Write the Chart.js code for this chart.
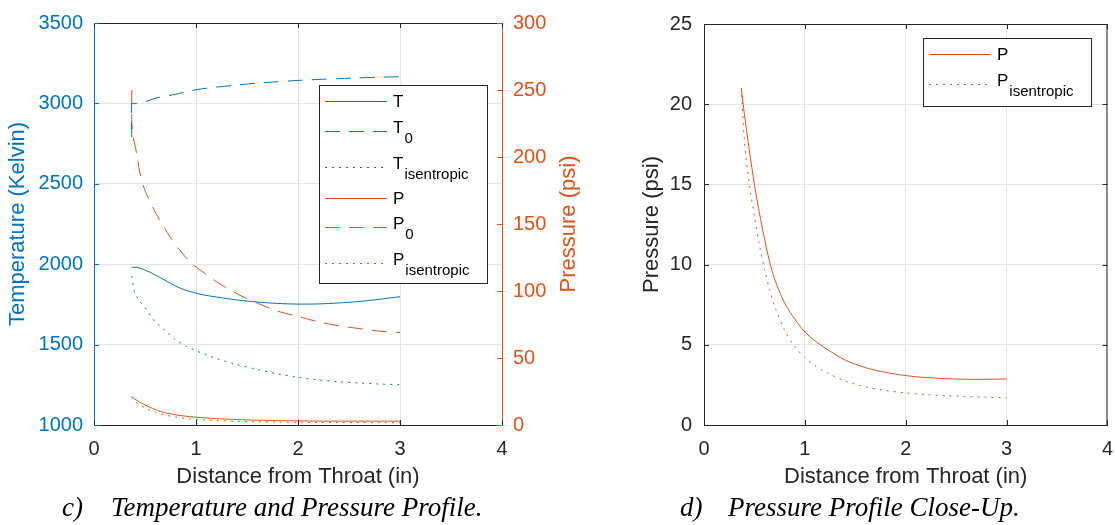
<!DOCTYPE html>
<html>
<head>
<meta charset="utf-8">
<script src="https://cdn.jsdelivr.net/npm/chart.js@4.4.0/dist/chart.umd.min.js"></script>
<style>
  html, body { margin: 0; padding: 0; background: #fff; overflow: hidden; }
  body { width: 1115px; height: 525px; position: relative; }
  .plot { position: absolute; top: 0; }
  #left-wrap { left: 0; width: 600px; height: 500px; }
  #right-wrap { left: 600px; width: 525px; height: 500px; }
  .caption { position: absolute; top: 492px; font-family: "Liberation Serif", "Times New Roman", serif;
             font-style: italic; font-size: 27px; line-height: 30px; white-space: nowrap; color: #000; }
</style>
</head>
<body>
<div class="plot" id="left-wrap"><canvas id="profileChart" width="600" height="500"></canvas></div>
<div class="plot" id="right-wrap"><canvas id="closeupChart" width="525" height="500"></canvas></div>
<div class="caption" style="left:62px">c)</div>
<div class="caption" style="left:111px">Temperature and Pressure Profile.</div>
<div class="caption" style="left:680px">d)</div>
<div class="caption" style="left:728px">Pressure Profile Close-Up.</div>

<script>
// distance from throat (in), shared by T, T_isentropic, P, P_isentropic
const distance = [0.37, 0.40, 0.45, 0.50, 0.55, 0.60, 0.65, 0.70, 0.80, 0.90, 1.00, 1.10, 1.20, 1.40, 1.60, 1.80, 2.00, 2.20, 2.40, 2.60, 2.80, 3.00];
const temp = [1978, 1982, 1975, 1963, 1950, 1933, 1916, 1899, 1864, 1838, 1820, 1806, 1796, 1778, 1765, 1756, 1752, 1753, 1759, 1768, 1782, 1798];
const tempIsen = [1925, 1822, 1768, 1730, 1683, 1642, 1612, 1587, 1530, 1491, 1462, 1436, 1413, 1376, 1346, 1318, 1296, 1280, 1269, 1261, 1255, 1251];
const pressure = [21.0, 19.4, 17.1, 15.0, 13.2, 11.6, 10.2, 9.1, 7.6, 6.6, 5.8, 5.25, 4.8, 4.05, 3.58, 3.28, 3.08, 2.96, 2.89, 2.85, 2.85, 2.87];
const pressureIsen = [21.0, 17.8, 15.0, 13.0, 11.2, 9.7, 8.45, 7.4, 5.9, 4.9, 4.2, 3.7, 3.32, 2.75, 2.38, 2.15, 2.0, 1.9, 1.83, 1.78, 1.73, 1.69];

// stagnation values, they start with a jump right at the throat
const tStagDistance = [0.37, 0.37, 0.40, 0.50, 0.60, 0.80, 1.00, 1.20, 1.40, 1.60, 1.80, 2.00, 2.20, 2.40, 2.60, 2.80, 3.00];
const tempStag = [2790, 3000, 2998, 3010, 3032, 3057, 3085, 3101, 3114, 3126, 3135, 3143, 3149, 3154, 3159, 3163, 3166];
const pStagDistance = [0.37, 0.37, 0.38, 0.42, 0.45, 0.50, 0.60, 0.75, 0.90, 1.00, 1.20, 1.40, 1.60, 1.80, 2.00, 2.20, 2.40, 2.60, 2.80, 3.00];
const pressureStag = [250, 228, 217, 202, 188, 175, 159, 140, 125, 118, 107, 98, 91, 85, 81, 77, 74, 72, 70, 69];

const xTicks = [0, 1, 2, 3, 4];

const BLUE = '#0072BD', ORANGE = '#D95319', AXIS = '#262626', GRID = '#e3e3e3';
const SOLID = [], DASH = [15, 9], DOT = [2, 5];
const FONT = '"Liberation Sans", Arial, Helvetica, sans-serif';

Chart.defaults.font.family = FONT;
Chart.defaults.animation = false;

const xy = (xs, ys) => xs.map((x, i) => ({ x: x, y: ys[i] }));
const plain = v => String(v);

function series(label, sub, xs, ys, color, dash, axis) {
    return { label: label, sub: sub, data: xy(xs, ys), borderColor: color, borderWidth: 1, borderDash: dash,
             pointRadius: 0, tension: 0.3, fill: false, yAxisID: axis };
}

// box legend with subscripts, MATLAB style
const boxLegend = {
    id: 'boxLegend',
    afterDraw(chart, args, opts) {
        const ctx = chart.ctx;
        const L = opts.left, T = opts.top;
        ctx.save();
        ctx.fillStyle = '#fff';
        ctx.fillRect(L, T, opts.width, opts.height);
        ctx.setLineDash([]);
        ctx.lineWidth = 1;
        ctx.strokeStyle = AXIS;
        ctx.strokeRect(L + 0.5, T + 0.5, opts.width, opts.height);
        chart.data.datasets.forEach((ds, i) => {
            const y = T + opts.rows[i];
            ctx.strokeStyle = ds.borderColor;
            ctx.setLineDash(ds.borderDash);
            ctx.beginPath();
            ctx.moveTo(L + 6, y + 0.5);
            ctx.lineTo(L + 68, y + 0.5);
            ctx.stroke();
            const base = y + 6 - (ds.sub ? 4 : 0);
            ctx.fillStyle = '#000';
            ctx.textBaseline = 'alphabetic';
            ctx.textAlign = 'left';
            ctx.font = '17px ' + FONT;
            ctx.fillText(ds.label, L + 74, base);
            if (ds.sub) {
                const w = ctx.measureText(ds.label).width;
                ctx.font = '15px ' + FONT;
                ctx.fillText(ds.sub, L + 74 + w + 1, base + 10);
            }
        });
        ctx.restore();
    }
};

// inward ticks, top edge and the rotated right-hand title
const frame = {
    id: 'frame',
    afterDraw(chart, args, opts) {
        const ctx = chart.ctx, a = chart.chartArea, s = chart.scales;
        const seg = (x1, y1, x2, y2) => { ctx.beginPath(); ctx.moveTo(x1, y1); ctx.lineTo(x2, y2); ctx.stroke(); };
        ctx.save();
        ctx.lineWidth = 1;
        ctx.setLineDash([]);
        ctx.strokeStyle = AXIS;
        seg(a.left, a.top + 0.5, a.right, a.top + 0.5);
        if (!s.y1) seg(a.right - 0.5, a.top, a.right - 0.5, a.bottom);
        s.x.ticks.forEach(t => {
            const px = Math.round(s.x.getPixelForValue(t.value)) + 0.5;
            seg(px, a.bottom, px, a.bottom - 5);
            seg(px, a.top, px, a.top + 5);
        });
        s.y.ticks.forEach(t => {
            const py = Math.round(s.y.getPixelForValue(t.value)) + 0.5;
            ctx.strokeStyle = opts.leftColor;
            seg(a.left, py, a.left + 5, py);
            if (!s.y1) { ctx.strokeStyle = AXIS; seg(a.right, py, a.right - 5, py); }
        });
        if (s.y1) {
            ctx.strokeStyle = ORANGE;
            s.y1.ticks.forEach(t => {
                const py = Math.round(s.y1.getPixelForValue(t.value)) + 0.5;
                seg(a.right, py, a.right - 5, py);
            });
        }
        if (opts.rightTitle) {
            ctx.translate(opts.rightTitleX, (a.top + a.bottom) / 2);
            ctx.rotate(-Math.PI / 2);
            ctx.fillStyle = ORANGE;
            ctx.font = '22px ' + FONT;
            ctx.textAlign = 'center';
            ctx.textBaseline = 'middle';
            ctx.fillText(opts.rightTitle, 0, 0);
        }
        ctx.restore();
    }
};

function xScale() {
    return {
        type: 'linear', min: xTicks[0], max: xTicks[xTicks.length - 1],
        afterBuildTicks: sc => { sc.ticks = xTicks.map(v => ({ value: v })); },
        ticks: { color: AXIS, font: { size: 20 }, padding: 12, callback: plain },
        grid: { color: GRID, drawTicks: false },
        border: { color: AXIS },
        title: { display: true, text: 'Distance from Throat (in)', color: AXIS, font: { size: 22 }, padding: { top: 0, bottom: 10 } },
        afterFit: sc => { sc.height = 75; }
    };
}

new Chart(document.getElementById('profileChart'), {
    type: 'line',
    data: {
        datasets: [
            series('T', '', distance, temp, BLUE, SOLID, 'y'),
            series('T', '0', tStagDistance, tempStag, BLUE, DASH, 'y'),
            series('T', 'isentropic', distance, tempIsen, BLUE, DOT, 'y'),
            series('P', '', distance, pressure, ORANGE, SOLID, 'y1'),
            series('P', '0', pStagDistance, pressureStag, ORANGE, DASH, 'y1'),
            series('P', 'isentropic', distance, pressureIsen, ORANGE, DOT, 'y1')
        ]
    },
    options: {
        responsive: false,
        devicePixelRatio: 1,
        layout: { padding: { top: 18 } },
        events: [],
        scales: {
            x: xScale(),
            y: {
                position: 'left', min: 1000, max: 3500,
                ticks: { stepSize: 500, color: BLUE, font: { size: 20 }, padding: 11, callback: plain },
                grid: { color: GRID, drawTicks: false },
                border: { color: BLUE },
                title: { display: true, text: 'Temperature (Kelvin)', color: BLUE, font: { size: 22 }, padding: { top: 5 } },
                afterFit: sc => { sc.width = 94; }
            },
            y1: {
                position: 'right', min: 0, max: 300,
                ticks: { stepSize: 50, color: ORANGE, font: { size: 20 }, padding: 11, callback: plain },
                grid: { drawOnChartArea: false, drawTicks: false },
                border: { color: ORANGE },
                afterFit: sc => { sc.width = 98; }
            }
        },
        plugins: {
            legend: { display: false },
            tooltip: { enabled: false },
            frame: { leftColor: BLUE, rightTitle: 'Pressure (psi)', rightTitleX: 569 },
            boxLegend: { left: 319, top: 85, width: 168, height: 198, rows: [16, 46, 82, 113, 142, 178] }
        }
    },
    plugins: [frame, boxLegend]
});

new Chart(document.getElementById('closeupChart'), {
    type: 'line',
    data: {
        datasets: [
            series('P', '', distance, pressure, ORANGE, SOLID, 'y'),
            series('P', 'isentropic', distance, pressureIsen, ORANGE, DOT, 'y')
        ]
    },
    options: {
        responsive: false,
        devicePixelRatio: 1,
        layout: { padding: { top: 18, right: 13 } },
        events: [],
        scales: {
            x: xScale(),
            y: {
                position: 'left', min: 0, max: 25,
                ticks: { stepSize: 5, color: AXIS, font: { size: 20 }, padding: 12, callback: plain },
                grid: { color: GRID, drawTicks: false },
                border: { color: AXIS },
                title: { display: true, text: 'Pressure (psi)', color: AXIS, font: { size: 22 }, padding: { top: 39 } },
                afterFit: sc => { sc.width = 104; }
            }
        },
        plugins: {
            legend: { display: false },
            tooltip: { enabled: false },
            frame: { leftColor: AXIS },
            boxLegend: { left: 323, top: 38, width: 168, height: 68, rows: [16, 46] }
        }
    },
    plugins: [frame, boxLegend]
});
</script>
</body>
</html>
